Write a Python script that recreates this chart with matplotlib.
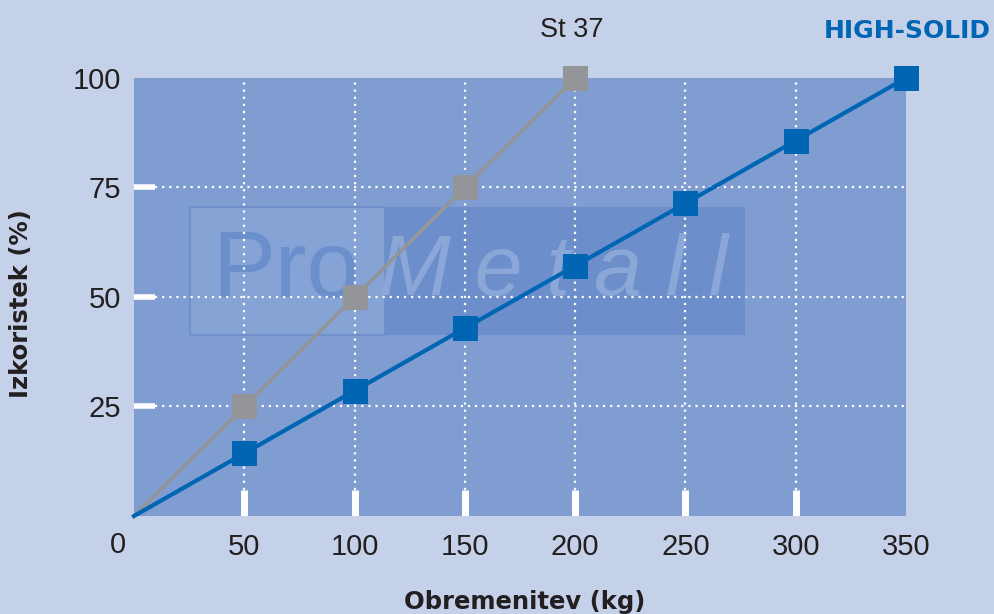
import matplotlib
matplotlib.use("Agg")
import matplotlib.pyplot as plt
from matplotlib.patches import Rectangle
import matplotlib.transforms as mtransforms

# data
st37_x = [0, 50, 100, 150, 200]
st37_y = [0, 25, 50, 75, 100]
hs_x = [0, 50, 100, 150, 200, 250, 300, 350]
hs_y = [0, 14.3, 28.6, 42.9, 57.1, 71.4, 85.7, 100]
y_ticks = [25, 50, 75, 100]
x_ticks = [50, 100, 150, 200, 250, 300, 350]

FIG_BG = "#c5d0e9"; AX_BG = "#7f9dd1"; BLUE = "#0066b3"; GREY = "#939598"; INK = "#231f20"

plt.rcParams["font.family"] = ["Liberation Sans", "DejaVu Sans"]

fig = plt.figure(figsize=(9.94, 6.14), dpi=100, facecolor=FIG_BG)
ax = fig.add_axes([0.1348, 0.1596, 0.7767, 0.7134])
ax.set_facecolor(AX_BG)
ax.set_xlim(0, 350); ax.set_ylim(0, 100)
for s in ax.spines.values():
    s.set_visible(False)

# watermark
ax.add_patch(Rectangle((25.4, 41.3), 88.4, 29.2, facecolor="#86a3d5", edgecolor="#6e91cc",
                       linewidth=1.5, zorder=1))
ax.add_patch(Rectangle((113.8, 41.3), 163.2, 29.2, facecolor="#6c8fcb", edgecolor="none",
                       zorder=1))
ax.text(69, 55.5, "Pro", fontsize=68, color="#6a8fcc", ha="center", va="center", zorder=1.5)
ax.text(190, 55.5, "M e t a l l", fontsize=62, style="italic", color="#8aa7d8",
        ha="center", va="center", zorder=1.5)

# grid and ticks
bx = mtransforms.blended_transform_factory(ax.transAxes, ax.transData)
by = mtransforms.blended_transform_factory(ax.transData, ax.transAxes)
for y in y_ticks[:-1]:
    ax.plot([0.027, 1], [y, y], transform=bx, color="white", linestyle=(0, (1, 2.2)),
            linewidth=1.6, zorder=2)
    ax.plot([0, 0.027], [y, y], transform=bx, color="white", linewidth=4, zorder=2,
            solid_capstyle="butt")
for x in x_ticks[:-1]:
    ax.plot([x, x], [0.059, 1], transform=by, color="white", linestyle=(0, (1, 2.2)),
            linewidth=1.6, zorder=2)
    ax.plot([x, x], [0, 0.059], transform=by, color="white", linewidth=5, zorder=2,
            solid_capstyle="butt")

# series (no marker at the origin)
ax.plot(st37_x, st37_y, color=GREY, linewidth=2.6, marker="s", markersize=18,
        markerfacecolor=GREY, markeredgewidth=0, markevery=slice(1, None),
        clip_on=False, zorder=3)
ax.plot(hs_x, hs_y, color=BLUE, linewidth=3.0, marker="s", markersize=18,
        markerfacecolor=BLUE, markeredgewidth=0, markevery=slice(1, None),
        clip_on=False, zorder=4)

ax.set_xticks(x_ticks)
ax.set_yticks(y_ticks)
ax.tick_params(length=0, labelsize=21, labelcolor=INK)
ax.tick_params(axis="x", pad=12)
ax.tick_params(axis="y", pad=9)
fig.text(118 / 994, 1 - 545 / 614, "0", fontsize=21, color=INK, ha="center", va="center")

fig.text(525 / 994, 1 - 602 / 614, "Obremenitev (kg)", fontsize=17.5, fontweight="bold",
         color=INK, ha="center", va="center", family="DejaVu Sans")
fig.text(21 / 994, 1 - 304 / 614, "Izkoristek (%)", fontsize=17.5, fontweight="bold",
         color=INK, ha="center", va="center", rotation=90, family="DejaVu Sans")
fig.text(572 / 994, 1 - 30 / 614, "St 37", fontsize=19.5, color=INK, ha="center", va="center")
fig.text(991 / 994, 1 - 31 / 614, "HIGH-SOLID", fontsize=18, fontweight="bold", color=BLUE,
         ha="right", va="center", family="DejaVu Sans")

fig.savefig("out.png", dpi=100, facecolor=FIG_BG)
